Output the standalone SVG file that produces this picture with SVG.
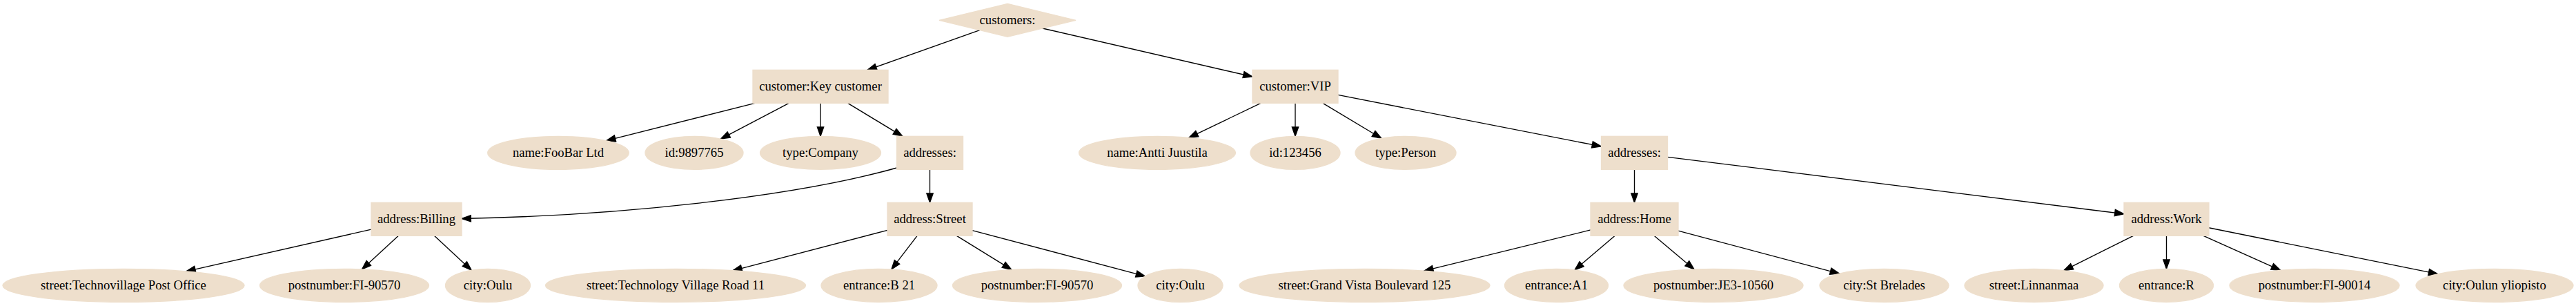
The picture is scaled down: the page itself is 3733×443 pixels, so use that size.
<svg xmlns="http://www.w3.org/2000/svg" width="3733" height="443" viewBox="0 0 3733 443">
<style>
.n{fill:#eedfcc;stroke:#eedfcc;stroke-width:1.33}
.t{font-family:"Liberation Serif","Times New Roman",serif;font-size:18.67px;text-anchor:middle;fill:#000}
.e{stroke:#000;stroke-width:1.33;fill:none;marker-end:url(#ah)}
</style>
<defs>
<marker id="ah" markerUnits="userSpaceOnUse" viewBox="0 0 13.33 9.33" markerWidth="13.33" markerHeight="9.33" refX="13.33" refY="4.67" orient="auto" overflow="visible">
<path d="M0,0 L13.33,4.67 L0,9.33 z" fill="#000" stroke="#000" stroke-width="1.33"/>
</marker>
</defs>
<rect width="3733" height="443" fill="#fff"/>
<g id="connectors">
<line class="e" x1="1419.8" y1="43.6" x2="1257" y2="101.33"/>
<line class="e" x1="1510.8" y1="41" x2="1815" y2="111"/>
<line class="e" x1="1094" y1="149.33" x2="878.6" y2="203.7"/>
<line class="e" x1="1143.25" y1="149.33" x2="1044.5" y2="201.1"/>
<line class="e" x1="1189" y1="149.33" x2="1189" y2="197.33"/>
<line class="e" x1="1228.6" y1="149.33" x2="1307.9" y2="197.33"/>
<line class="e" x1="1827" y1="149.33" x2="1722.8" y2="199.4"/>
<line class="e" x1="1877" y1="149.33" x2="1877" y2="197.33"/>
<line class="e" x1="1917" y1="149.33" x2="2001.9" y2="200.3"/>
<line class="e" x1="1939" y1="137.4" x2="2320.5" y2="211.97"/>
<path class="e" d="M1299.5,243 C1150,285 900,312 669,316.5"/>
<line class="e" x1="1347.5" y1="245.33" x2="1347.5" y2="293.33"/>
<line class="e" x1="2368.5" y1="245.33" x2="2368.5" y2="293.33"/>
<line class="e" x1="2416.5" y1="227.3" x2="3078" y2="309.7"/>
<line class="e" x1="538" y1="332.14" x2="269.8" y2="392.8"/>
<line class="e" x1="577.4" y1="341.33" x2="524.5" y2="389.9"/>
<line class="e" x1="629.4" y1="341.33" x2="683.2" y2="391.2"/>
<line class="e" x1="1286" y1="333.35" x2="1061.8" y2="391.8"/>
<line class="e" x1="1329.1" y1="341.33" x2="1291.9" y2="389.9"/>
<line class="e" x1="1386.4" y1="341.33" x2="1465.9" y2="390.4"/>
<line class="e" x1="1409" y1="333.6" x2="1659.6" y2="399.9"/>
<line class="e" x1="2305" y1="332.9" x2="2063.6" y2="392.2"/>
<line class="e" x1="2340.25" y1="341.33" x2="2281.9" y2="390.9"/>
<line class="e" x1="2397.1" y1="341.33" x2="2455.1" y2="389.9"/>
<line class="e" x1="2432" y1="334.2" x2="2665.5" y2="396.1"/>
<line class="e" x1="3091.5" y1="341.33" x2="2990.8" y2="391.7"/>
<line class="e" x1="3139.5" y1="341.33" x2="3139.5" y2="389.33"/>
<line class="e" x1="3193.1" y1="341.33" x2="3304.8" y2="391.3"/>
<line class="e" x1="3201" y1="329.75" x2="3532.7" y2="396.7"/>
</g>
<g id="customers"><polygon class="n" points="1460,5.33 1559,29.33 1460,53.33 1361,29.33"/><text class="t" x="1460" y="34.93">customers:</text></g>
<g id="customer_key"><rect class="n" x="1091" y="101.33" width="196" height="48"/><text class="t" x="1189" y="130.93">customer:Key customer</text></g>
<g id="customer_vip"><rect class="n" x="1815" y="101.33" width="124" height="48"/><text class="t" x="1877" y="130.93">customer:VIP</text></g>
<g id="name_foobar"><ellipse class="n" cx="809" cy="221.33" rx="102.3" ry="24"/><text class="t" x="809" y="226.93">name:FooBar Ltd</text></g>
<g id="id_9897765"><ellipse class="n" cx="1006" cy="221.33" rx="71" ry="24"/><text class="t" x="1006" y="226.93">id:9897765</text></g>
<g id="type_company"><ellipse class="n" cx="1189" cy="221.33" rx="87.5" ry="24"/><text class="t" x="1189" y="226.93">type:Company</text></g>
<g id="addresses_key"><rect class="n" x="1299.5" y="197.33" width="96" height="48"/><text class="t" x="1347.5" y="226.93">addresses:</text></g>
<g id="name_antti"><ellipse class="n" cx="1677" cy="221.33" rx="113.5" ry="24"/><text class="t" x="1677" y="226.93">name:Antti Juustila</text></g>
<g id="id_123456"><ellipse class="n" cx="1877" cy="221.33" rx="65" ry="24"/><text class="t" x="1877" y="226.93">id:123456</text></g>
<g id="type_person"><ellipse class="n" cx="2037" cy="221.33" rx="73" ry="24"/><text class="t" x="2037" y="226.93">type:Person</text></g>
<g id="addresses_vip"><rect class="n" x="2320.5" y="197.33" width="96" height="48"/><text class="t" x="2368.5" y="226.93">addresses:</text></g>
<g id="address_billing"><rect class="n" x="538" y="293.33" width="131" height="48"/><text class="t" x="603.5" y="322.93">address:Billing</text></g>
<g id="address_street"><rect class="n" x="1286" y="293.33" width="123" height="48"/><text class="t" x="1347.5" y="322.93">address:Street</text></g>
<g id="address_home"><rect class="n" x="2305" y="293.33" width="127" height="48"/><text class="t" x="2368.5" y="322.93">address:Home</text></g>
<g id="address_work"><rect class="n" x="3078" y="293.33" width="123" height="48"/><text class="t" x="3139.5" y="322.93">address:Work</text></g>
<g id="street_technovillage"><ellipse class="n" cx="179" cy="413.33" rx="175" ry="24"/><text class="t" x="179" y="418.93">street:Technovillage Post Office</text></g>
<g id="postnumber_billing"><ellipse class="n" cx="499" cy="413.33" rx="122.5" ry="24"/><text class="t" x="499" y="418.93">postnumber:FI-90570</text></g>
<g id="city_billing"><ellipse class="n" cx="707" cy="413.33" rx="61.5" ry="24"/><text class="t" x="707" y="418.93">city:Oulu</text></g>
<g id="street_technology"><ellipse class="n" cx="979" cy="413.33" rx="188.5" ry="24"/><text class="t" x="979" y="418.93">street:Technology Village Road 11</text></g>
<g id="entrance_b21"><ellipse class="n" cx="1274" cy="413.33" rx="84" ry="24"/><text class="t" x="1274" y="418.93">entrance:B 21</text></g>
<g id="postnumber_street"><ellipse class="n" cx="1503" cy="413.33" rx="122.5" ry="24"/><text class="t" x="1503" y="418.93">postnumber:FI-90570</text></g>
<g id="city_street"><ellipse class="n" cx="1710.5" cy="413.33" rx="61.5" ry="24"/><text class="t" x="1710.5" y="418.93">city:Oulu</text></g>
<g id="street_grandvista"><ellipse class="n" cx="1977.5" cy="413.33" rx="181.5" ry="24"/><text class="t" x="1977.5" y="418.93">street:Grand Vista Boulevard 125</text></g>
<g id="entrance_a1"><ellipse class="n" cx="2255.5" cy="413.33" rx="75" ry="24"/><text class="t" x="2255.5" y="418.93">entrance:A1</text></g>
<g id="postnumber_home"><ellipse class="n" cx="2483" cy="413.33" rx="130" ry="24"/><text class="t" x="2483" y="418.93">postnumber:JE3-10560</text></g>
<g id="city_stbrelades"><ellipse class="n" cx="2730.5" cy="413.33" rx="93.5" ry="24"/><text class="t" x="2730.5" y="418.93">city:St Brelades</text></g>
<g id="street_linnanmaa"><ellipse class="n" cx="2947.5" cy="413.33" rx="100.5" ry="24"/><text class="t" x="2947.5" y="418.93">street:Linnanmaa</text></g>
<g id="entrance_r"><ellipse class="n" cx="3139.5" cy="413.33" rx="68" ry="24"/><text class="t" x="3139.5" y="418.93">entrance:R</text></g>
<g id="postnumber_work"><ellipse class="n" cx="3354" cy="413.33" rx="123" ry="24"/><text class="t" x="3354" y="418.93">postnumber:FI-90014</text></g>
<g id="city_oulunyliopisto"><ellipse class="n" cx="3615" cy="413.33" rx="114" ry="24"/><text class="t" x="3615" y="418.93">city:Oulun yliopisto</text></g>
</svg>
